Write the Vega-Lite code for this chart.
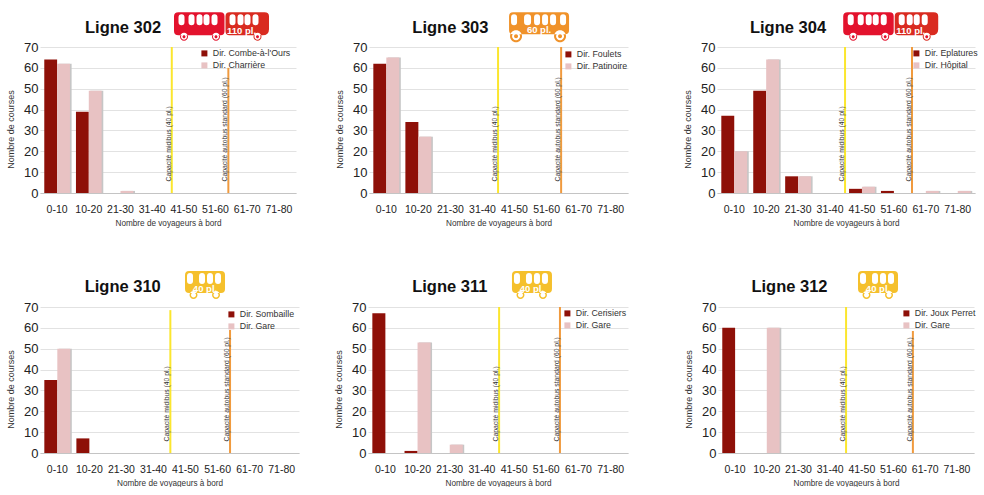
{"$schema":"https://vega.github.io/schema/vega-lite/v6.json","background":"white","padding":{"left":6,"top":12,"right":0,"bottom":0},
"config":{"view":{"stroke":null},"font":"Liberation Sans",
"axisX":{"grid":false,"domainColor":"#c4c4c4","domainWidth":1,"ticks":false,"labelFontSize":10.5,"labelColor":"#222","labelPadding":11,"labelAngle":0,"titleFontSize":8.2,"titleFontWeight":"normal","titleColor":"#333","titlePadding":5},
"axisY":{"grid":true,"gridColor":"#e2e2e2","domain":false,"ticks":false,"labelFontSize":13,"labelColor":"#222","labelPadding":2,"titleFontSize":9,"titleFontWeight":"normal","titleColor":"#333","titlePadding":8,"titleY":82,"tickCount":8},
"legend":{"title":null,"symbolType":"square","symbolSize":36,"labelFontSize":8.8,"labelColor":"#333","rowPadding":2,"labelOffset":4,"padding":0}},
"resolve":{"scale":{"color":"independent","xOffset":"independent"}},
"datasets":{"one":[{"k":1}],
"d302":[{"bin":"0-10","dir":"Dir. Combe-à-l'Ours","n":64},{"bin":"0-10","dir":"Dir. Charrière","n":62},{"bin":"10-20","dir":"Dir. Combe-à-l'Ours","n":39},{"bin":"10-20","dir":"Dir. Charrière","n":49},{"bin":"21-30","dir":"Dir. Charrière","n":1}],
"d303":[{"bin":"0-10","dir":"Dir. Foulets","n":62},{"bin":"0-10","dir":"Dir. Patinoire","n":65},{"bin":"10-20","dir":"Dir. Foulets","n":34},{"bin":"10-20","dir":"Dir. Patinoire","n":27}],
"d304":[{"bin":"0-10","dir":"Dir. Eplatures","n":37},{"bin":"0-10","dir":"Dir. Hôpital","n":20},{"bin":"10-20","dir":"Dir. Eplatures","n":49},{"bin":"10-20","dir":"Dir. Hôpital","n":64},{"bin":"21-30","dir":"Dir. Eplatures","n":8},{"bin":"21-30","dir":"Dir. Hôpital","n":8},{"bin":"41-50","dir":"Dir. Eplatures","n":2},{"bin":"41-50","dir":"Dir. Hôpital","n":3},{"bin":"51-60","dir":"Dir. Eplatures","n":1},{"bin":"61-70","dir":"Dir. Hôpital","n":1},{"bin":"71-80","dir":"Dir. Hôpital","n":1}],
"d310":[{"bin":"0-10","dir":"Dir. Sombaille","n":35},{"bin":"0-10","dir":"Dir. Gare","n":50},{"bin":"10-20","dir":"Dir. Sombaille","n":7}],
"d311":[{"bin":"0-10","dir":"Dir. Cerisiers","n":67},{"bin":"10-20","dir":"Dir. Cerisiers","n":1},{"bin":"10-20","dir":"Dir. Gare","n":53},{"bin":"21-30","dir":"Dir. Gare","n":4}],
"d312":[{"bin":"0-10","dir":"Dir. Joux Perret","n":60},{"bin":"10-20","dir":"Dir. Gare","n":60}]},
"vconcat":[
{"resolve":{"scale":{"color":"independent","xOffset":"independent"}},"hconcat":[
{"resolve":{"scale":{"color":"independent","xOffset":"independent"}},"hconcat":[
{"width":256,"height":146,"layer":[
{"data":{"name":"d302"},"transform":[{"filter":"datum.dir=='Dir. Charrière'"}],"mark":{"type":"bar","color":"#c6c6c6","width":13,"xOffset":8},"encoding":{"x":{"field":"bin","type":"nominal","axis":{"title":"Nombre de voyageurs à bord"}},"y":{"field":"n","type":"quantitative","axis":{"title":"Nombre de courses","values":[0,10,20,30,40,50,60,70]}}}},
{"data":{"name":"d302"},"mark":"bar","encoding":{"x":{"field":"bin","type":"nominal","scale":{"domain":["0-10","10-20","21-30","31-40","41-50","51-60","61-70","71-80"],"paddingInner":0.19,"paddingOuter":0.135},"axis":{"title":"Nombre de voyageurs à bord"}},"xOffset":{"field":"dir","scale":{"domain":["Dir. Combe-à-l'Ours","Dir. Charrière"]}},"y":{"field":"n","type":"quantitative","scale":{"domain":[0,70],"nice":false},"axis":{"title":"Nombre de courses","values":[0,10,20,30,40,50,60,70]}},"color":{"field":"dir","scale":{"domain":["Dir. Combe-à-l'Ours","Dir. Charrière"],"range":["#8e1008","#e8c2c3"]},"legend":{"orient":"none","legendX":160,"legendY":2}}}},
{"data":{"name":"one"},"mark":{"type":"rule","color":"#fbe62e","strokeWidth":2},"encoding":{"x":{"datum":"41-50","bandPosition":0.03},"y":{"datum":0},"y2":{"datum":70}}},
{"data":{"name":"one"},"mark":{"type":"rule","color":"#f09a3e","strokeWidth":2},"encoding":{"x":{"datum":"51-60","bandPosition":1},"y":{"datum":0},"y2":{"datum":60}}},
{"data":{"name":"one"},"mark":{"type":"text","text":"Capacité midibus (40 pl.)","angle":270,"align":"left","baseline":"bottom","fontSize":6.8,"color":"#333","dx":-1},"encoding":{"x":{"datum":"41-50","bandPosition":0.03},"y":{"datum":6}}},
{"data":{"name":"one"},"mark":{"type":"text","text":"Capacité autobus standard (60 pl.)","angle":270,"align":"left","baseline":"bottom","fontSize":6.8,"color":"#333","dx":-1},"encoding":{"x":{"datum":"51-60","bandPosition":1},"y":{"datum":6}}},
{"data":{"name":"one"},"mark":{"type":"text","text":"Ligne 302","fontSize":16.5,"fontWeight":"bold","color":"#111","baseline":"middle"},"encoding":{"x":{"datum":"21-30","bandPosition":0.6},"y":{"datum":79}}},
{"data":{"name":"one"},"mark":{"type":"point","filled":true,"opacity":1,"size":4,"color":"#e3122d","shape":"M-43-14H-1Q3-14 3-10V5Q3 9-1 9H-43Q-47.5 9-47.5 5V-10Q-47.5-14-43-14ZM-41.5 10.5a4 4 0 1 0 8 0a4 4 0 1 0-8 0ZM-9.5 10.5a4 4 0 1 0 8 0a4 4 0 1 0-8 0Z"},"encoding":{"x":{"datum":"51-60","bandPosition":0.733},"y":{"datum":80}}},
{"data":{"name":"one"},"mark":{"type":"point","filled":true,"opacity":1,"size":4,"color":"#d92b20","shape":"M8-14H43Q47.5-14 47.5-10V3Q47.5 9 41 9H8Q4 9 4 5V-10Q4-14 8-14ZM32 10.5a4 4 0 1 0 8 0a4 4 0 1 0-8 0Z"},"encoding":{"x":{"datum":"51-60","bandPosition":0.733},"y":{"datum":80}}},
{"data":{"name":"one"},"mark":{"type":"point","filled":true,"opacity":1,"size":4,"color":"white","shape":"M-43-9q0-3 3-3q3 0 3 3v5q0 3-3 3q-3 0-3-3ZM-33-9q0-3 3-3q3 0 3 3v5q0 3-3 3q-3 0-3-3ZM-25-9q0-3 3-3q3 0 3 3v5q0 3-3 3q-3 0-3-3ZM-18-9q0-3 3-3q3 0 3 3v5q0 3-3 3q-3 0-3-3ZM-10-9q0-3 3-3q3 0 3 3v5q0 3-3 3q-3 0-3-3ZM8-9q0-3 3-3q3 0 3 3v5q0 3-3 3q-3 0-3-3ZM16-9q0-3 3-3q3 0 3 3v5q0 3-3 3q-3 0-3-3ZM23-9q0-3 3-3q3 0 3 3v5q0 3-3 3q-3 0-3-3ZM31-9q0-3 3-3q3 0 3 3v5q0 3-3 3q-3 0-3-3ZM-40.5 10.5a3 3 0 1 0 6 0a3 3 0 1 0-6 0ZM-8.5 10.5a3 3 0 1 0 6 0a3 3 0 1 0-6 0ZM33 10.5a3 3 0 1 0 6 0a3 3 0 1 0-6 0Z"},"encoding":{"x":{"datum":"51-60","bandPosition":0.733},"y":{"datum":80}}},
{"data":{"name":"one"},"mark":{"type":"point","filled":true,"opacity":1,"size":4,"color":"#e3122d","shape":"M-39 10.5a1.500 1.500 0 1 0 3 0a1.500 1.500 0 1 0-3 0ZM-7 10.5a1.500 1.500 0 1 0 3 0a1.500 1.500 0 1 0-3 0ZM34.500 10.5a1.500 1.500 0 1 0 3 0a1.500 1.500 0 1 0-3 0Z"},"encoding":{"x":{"datum":"51-60","bandPosition":0.733},"y":{"datum":80}}},
{"data":{"name":"one"},"mark":{"type":"text","text":"110 pl.","fontSize":9.5,"fontWeight":"bold","color":"white","dx":20,"dy":5},"encoding":{"x":{"datum":"51-60","bandPosition":0.733},"y":{"datum":80}}}
]},
{"width":259,"height":146,"layer":[
{"data":{"name":"d303"},"transform":[{"filter":"datum.dir=='Dir. Patinoire'"}],"mark":{"type":"bar","color":"#c6c6c6","width":13,"xOffset":8},"encoding":{"x":{"field":"bin","type":"nominal","axis":{"title":"Nombre de voyageurs à bord"}},"y":{"field":"n","type":"quantitative","axis":{"title":"Nombre de courses","values":[0,10,20,30,40,50,60,70]}}}},
{"data":{"name":"d303"},"mark":"bar","encoding":{"x":{"field":"bin","type":"nominal","scale":{"domain":["0-10","10-20","21-30","31-40","41-50","51-60","61-70","71-80"],"paddingInner":0.19,"paddingOuter":0.135},"axis":{"title":"Nombre de voyageurs à bord"}},"xOffset":{"field":"dir","scale":{"domain":["Dir. Foulets","Dir. Patinoire"]}},"y":{"field":"n","type":"quantitative","scale":{"domain":[0,70],"nice":false},"axis":{"title":"Nombre de courses","values":[0,10,20,30,40,50,60,70]}},"color":{"field":"dir","scale":{"domain":["Dir. Foulets","Dir. Patinoire"],"range":["#8e1008","#e8c2c3"]},"legend":{"orient":"none","legendX":195,"legendY":3}}}},
{"data":{"name":"one"},"mark":{"type":"rule","color":"#fbe62e","strokeWidth":2},"encoding":{"x":{"datum":"31-40","bandPosition":1.1},"y":{"datum":0},"y2":{"datum":70}}},
{"data":{"name":"one"},"mark":{"type":"rule","color":"#f09a3e","strokeWidth":2},"encoding":{"x":{"datum":"51-60","bandPosition":1.06},"y":{"datum":0},"y2":{"datum":70}}},
{"data":{"name":"one"},"mark":{"type":"text","text":"Capacité midibus (40 pl.)","angle":270,"align":"left","baseline":"bottom","fontSize":6.8,"color":"#333","dx":-1},"encoding":{"x":{"datum":"31-40","bandPosition":1.1},"y":{"datum":6}}},
{"data":{"name":"one"},"mark":{"type":"text","text":"Capacité autobus standard (60 pl.)","angle":270,"align":"left","baseline":"bottom","fontSize":6.8,"color":"#333","dx":-1},"encoding":{"x":{"datum":"51-60","bandPosition":1.06},"y":{"datum":6}}},
{"data":{"name":"one"},"mark":{"type":"text","text":"Ligne 303","fontSize":16.5,"fontWeight":"bold","color":"#111","baseline":"middle"},"encoding":{"x":{"datum":"21-30"},"y":{"datum":79}}},
{"data":{"name":"one"},"mark":{"type":"point","filled":true,"opacity":1,"size":4,"color":"#f0922a","shape":"M-26-14H26Q30-14 30-10V4Q30 8 26 8H-26Q-30 8-30 4V-10Q-30-14-26-14ZM-29 10a6 6 0 1 0 12 0a6 6 0 1 0-12 0ZM15 10a6 6 0 1 0 12 0a6 6 0 1 0-12 0Z"},"encoding":{"x":{"datum":"51-60","bandPosition":0.21},"y":{"datum":80}}},
{"data":{"name":"one"},"mark":{"type":"point","filled":true,"opacity":1,"size":4,"color":"white","shape":"M-28-9q0-3 3-3q3 0 3 3v5q0 3-3 3q-3 0-3-3ZM-15-9q0-3 3.500-3q3.500 0 3.500 3v5q0 3-3.500 3q-3.500 0-3.500-3ZM-5-9q0-3 3-3q3 0 3 3v5q0 3-3 3q-3 0-3-3ZM3-9q0-3 3-3q3 0 3 3v5q0 3-3 3q-3 0-3-3ZM11-9q0-3 3-3q3 0 3 3v5q0 3-3 3q-3 0-3-3ZM21-9q0-3 3-3q3 0 3 3v5q0 3-3 3q-3 0-3-3ZM-27 10a4 4 0 1 0 8 0a4 4 0 1 0-8 0ZM17 10a4 4 0 1 0 8 0a4 4 0 1 0-8 0Z"},"encoding":{"x":{"datum":"51-60","bandPosition":0.21},"y":{"datum":80}}},
{"data":{"name":"one"},"mark":{"type":"point","filled":true,"opacity":1,"size":4,"color":"#f0922a","shape":"M-25 10a2 2 0 1 0 4 0a2 2 0 1 0-4 0ZM19 10a2 2 0 1 0 4 0a2 2 0 1 0-4 0Z"},"encoding":{"x":{"datum":"51-60","bandPosition":0.21},"y":{"datum":80}}},
{"data":{"name":"one"},"mark":{"type":"text","text":"60 pl.","fontSize":9.5,"fontWeight":"bold","color":"white","dx":0,"dy":4},"encoding":{"x":{"datum":"51-60","bandPosition":0.21},"y":{"datum":80}}}
]}
],"spacing":39},
{"width":258,"height":146,"layer":[
{"data":{"name":"d304"},"transform":[{"filter":"datum.dir=='Dir. Hôpital'"}],"mark":{"type":"bar","color":"#c6c6c6","width":13,"xOffset":8},"encoding":{"x":{"field":"bin","type":"nominal","axis":{"title":"Nombre de voyageurs à bord"}},"y":{"field":"n","type":"quantitative","axis":{"title":"Nombre de courses","values":[0,10,20,30,40,50,60,70]}}}},
{"data":{"name":"d304"},"mark":"bar","encoding":{"x":{"field":"bin","type":"nominal","scale":{"domain":["0-10","10-20","21-30","31-40","41-50","51-60","61-70","71-80"],"paddingInner":0.19,"paddingOuter":0.135},"axis":{"title":"Nombre de voyageurs à bord"}},"xOffset":{"field":"dir","scale":{"domain":["Dir. Eplatures","Dir. Hôpital"]}},"y":{"field":"n","type":"quantitative","scale":{"domain":[0,70],"nice":false},"axis":{"title":"Nombre de courses","values":[0,10,20,30,40,50,60,70]}},"color":{"field":"dir","scale":{"domain":["Dir. Eplatures","Dir. Hôpital"],"range":["#8e1008","#e8c2c3"]},"legend":{"orient":"none","legendX":195,"legendY":2}}}},
{"data":{"name":"one"},"mark":{"type":"rule","color":"#fbe62e","strokeWidth":2},"encoding":{"x":{"datum":"31-40","bandPosition":1.08},"y":{"datum":0},"y2":{"datum":70}}},
{"data":{"name":"one"},"mark":{"type":"rule","color":"#f09a3e","strokeWidth":2},"encoding":{"x":{"datum":"51-60","bandPosition":1.2},"y":{"datum":0},"y2":{"datum":70}}},
{"data":{"name":"one"},"mark":{"type":"text","text":"Capacité midibus (40 pl.)","angle":270,"align":"left","baseline":"bottom","fontSize":6.8,"color":"#333","dx":-1},"encoding":{"x":{"datum":"31-40","bandPosition":1.08},"y":{"datum":6}}},
{"data":{"name":"one"},"mark":{"type":"text","text":"Capacité autobus standard (60 pl.)","angle":270,"align":"left","baseline":"bottom","fontSize":6.8,"color":"#333","dx":-1},"encoding":{"x":{"datum":"51-60","bandPosition":1.2},"y":{"datum":6}}},
{"data":{"name":"one"},"mark":{"type":"text","text":"Ligne 304","fontSize":16.5,"fontWeight":"bold","color":"#111","baseline":"middle"},"encoding":{"x":{"datum":"21-30","bandPosition":0.11},"y":{"datum":79}}},
{"data":{"name":"one"},"mark":{"type":"point","filled":true,"opacity":1,"size":4,"color":"#e3122d","shape":"M-43-14H-1Q3-14 3-10V5Q3 9-1 9H-43Q-47.5 9-47.5 5V-10Q-47.5-14-43-14ZM-41.5 10.5a4 4 0 1 0 8 0a4 4 0 1 0-8 0ZM-9.5 10.5a4 4 0 1 0 8 0a4 4 0 1 0-8 0Z"},"encoding":{"x":{"datum":"51-60","bandPosition":0.377},"y":{"datum":80}}},
{"data":{"name":"one"},"mark":{"type":"point","filled":true,"opacity":1,"size":4,"color":"#d92b20","shape":"M8-14H43Q47.5-14 47.5-10V3Q47.5 9 41 9H8Q4 9 4 5V-10Q4-14 8-14ZM32 10.5a4 4 0 1 0 8 0a4 4 0 1 0-8 0Z"},"encoding":{"x":{"datum":"51-60","bandPosition":0.377},"y":{"datum":80}}},
{"data":{"name":"one"},"mark":{"type":"point","filled":true,"opacity":1,"size":4,"color":"white","shape":"M-43-9q0-3 3-3q3 0 3 3v5q0 3-3 3q-3 0-3-3ZM-33-9q0-3 3-3q3 0 3 3v5q0 3-3 3q-3 0-3-3ZM-25-9q0-3 3-3q3 0 3 3v5q0 3-3 3q-3 0-3-3ZM-18-9q0-3 3-3q3 0 3 3v5q0 3-3 3q-3 0-3-3ZM-10-9q0-3 3-3q3 0 3 3v5q0 3-3 3q-3 0-3-3ZM8-9q0-3 3-3q3 0 3 3v5q0 3-3 3q-3 0-3-3ZM16-9q0-3 3-3q3 0 3 3v5q0 3-3 3q-3 0-3-3ZM23-9q0-3 3-3q3 0 3 3v5q0 3-3 3q-3 0-3-3ZM31-9q0-3 3-3q3 0 3 3v5q0 3-3 3q-3 0-3-3ZM-40.5 10.5a3 3 0 1 0 6 0a3 3 0 1 0-6 0ZM-8.5 10.5a3 3 0 1 0 6 0a3 3 0 1 0-6 0ZM33 10.5a3 3 0 1 0 6 0a3 3 0 1 0-6 0Z"},"encoding":{"x":{"datum":"51-60","bandPosition":0.377},"y":{"datum":80}}},
{"data":{"name":"one"},"mark":{"type":"point","filled":true,"opacity":1,"size":4,"color":"#e3122d","shape":"M-39 10.5a1.500 1.500 0 1 0 3 0a1.500 1.500 0 1 0-3 0ZM-7 10.5a1.500 1.500 0 1 0 3 0a1.500 1.500 0 1 0-3 0ZM34.500 10.5a1.500 1.500 0 1 0 3 0a1.500 1.500 0 1 0-3 0Z"},"encoding":{"x":{"datum":"51-60","bandPosition":0.377},"y":{"datum":80}}},
{"data":{"name":"one"},"mark":{"type":"text","text":"110 pl.","fontSize":9.5,"fontWeight":"bold","color":"white","dx":20,"dy":5},"encoding":{"x":{"datum":"51-60","bandPosition":0.377},"y":{"datum":80}}}
]}
],"spacing":55},
{"resolve":{"scale":{"color":"independent","xOffset":"independent"}},"hconcat":[
{"resolve":{"scale":{"color":"independent","xOffset":"independent"}},"hconcat":[
{"width":259,"height":146,"layer":[
{"data":{"name":"d310"},"transform":[{"filter":"datum.dir=='Dir. Gare'"}],"mark":{"type":"bar","color":"#c6c6c6","width":13,"xOffset":8},"encoding":{"x":{"field":"bin","type":"nominal","axis":{"title":"Nombre de voyageurs à bord"}},"y":{"field":"n","type":"quantitative","axis":{"title":"Nombre de courses","values":[0,10,20,30,40,50,60,70]}}}},
{"data":{"name":"d310"},"mark":"bar","encoding":{"x":{"field":"bin","type":"nominal","scale":{"domain":["0-10","10-20","21-30","31-40","41-50","51-60","61-70","71-80"],"paddingInner":0.19,"paddingOuter":0.135},"axis":{"title":"Nombre de voyageurs à bord"}},"xOffset":{"field":"dir","scale":{"domain":["Dir. Sombaille","Dir. Gare"]}},"y":{"field":"n","type":"quantitative","scale":{"domain":[0,70],"nice":false},"axis":{"title":"Nombre de courses","values":[0,10,20,30,40,50,60,70]}},"color":{"field":"dir","scale":{"domain":["Dir. Sombaille","Dir. Gare"],"range":["#8e1008","#e8c2c3"]},"legend":{"orient":"none","legendX":187,"legendY":3}}}},
{"data":{"name":"one"},"mark":{"type":"rule","color":"#fbe62e","strokeWidth":2},"encoding":{"x":{"datum":"31-40","bandPosition":1.15},"y":{"datum":0},"y2":{"datum":68.5}}},
{"data":{"name":"one"},"mark":{"type":"rule","color":"#f09a3e","strokeWidth":2},"encoding":{"x":{"datum":"51-60","bandPosition":0.98},"y":{"datum":0},"y2":{"datum":59}}},
{"data":{"name":"one"},"mark":{"type":"text","text":"Capacité midibus (40 pl.)","angle":270,"align":"left","baseline":"bottom","fontSize":6.8,"color":"#333","dx":-1},"encoding":{"x":{"datum":"31-40","bandPosition":1.15},"y":{"datum":6}}},
{"data":{"name":"one"},"mark":{"type":"text","text":"Capacité autobus standard (60 pl.)","angle":270,"align":"left","baseline":"bottom","fontSize":6.8,"color":"#333","dx":-1},"encoding":{"x":{"datum":"51-60","bandPosition":0.98},"y":{"datum":6}}},
{"data":{"name":"one"},"mark":{"type":"text","text":"Ligne 310","fontSize":16.5,"fontWeight":"bold","color":"#111","baseline":"middle"},"encoding":{"x":{"datum":"21-30","bandPosition":0.55},"y":{"datum":79.5}}},
{"data":{"name":"one"},"mark":{"type":"point","filled":true,"opacity":1,"size":4,"color":"#f5c02c","shape":"M-16-13H16Q20-13 20-9V5Q20 9 16 9H-16Q-20 9-20 5V-9Q-20-13-16-13ZM-15.500 11a4 4 0 1 0 8 0a4 4 0 1 0-8 0ZM7 11a4 4 0 1 0 8 0a4 4 0 1 0-8 0Z"},"encoding":{"x":{"datum":"51-60","bandPosition":0.016},"y":{"datum":81}}},
{"data":{"name":"one"},"mark":{"type":"point","filled":true,"opacity":1,"size":4,"color":"white","shape":"M-18-8q0-3 3-3q3 0 3 3v5q0 3-3 3q-3 0-3-3ZM-6-8q0-3 3-3q3 0 3 3v5q0 3-3 3q-3 0-3-3ZM2-8q0-3 3-3q3 0 3 3v5q0 3-3 3q-3 0-3-3ZM10-8q0-3 3-3q3 0 3 3v5q0 3-3 3q-3 0-3-3ZM-14 11a2.500 2.500 0 1 0 5 0a2.500 2.500 0 1 0-5 0ZM8.500 11a2.500 2.500 0 1 0 5 0a2.500 2.500 0 1 0-5 0Z"},"encoding":{"x":{"datum":"51-60","bandPosition":0.016},"y":{"datum":81}}},
{"data":{"name":"one"},"mark":{"type":"text","text":"40 pl.","fontSize":9.5,"fontWeight":"bold","color":"white","dx":0,"dy":5},"encoding":{"x":{"datum":"51-60","bandPosition":0.016},"y":{"datum":81}}}
]},
{"width":260,"height":146,"layer":[
{"data":{"name":"d311"},"transform":[{"filter":"datum.dir=='Dir. Gare'"}],"mark":{"type":"bar","color":"#c6c6c6","width":13,"xOffset":8},"encoding":{"x":{"field":"bin","type":"nominal","axis":{"title":"Nombre de voyageurs à bord"}},"y":{"field":"n","type":"quantitative","axis":{"title":"Nombre de courses","values":[0,10,20,30,40,50,60,70]}}}},
{"data":{"name":"d311"},"mark":"bar","encoding":{"x":{"field":"bin","type":"nominal","scale":{"domain":["0-10","10-20","21-30","31-40","41-50","51-60","61-70","71-80"],"paddingInner":0.19,"paddingOuter":0.135},"axis":{"title":"Nombre de voyageurs à bord"}},"xOffset":{"field":"dir","scale":{"domain":["Dir. Cerisiers","Dir. Gare"]}},"y":{"field":"n","type":"quantitative","scale":{"domain":[0,70],"nice":false},"axis":{"title":"Nombre de courses","values":[0,10,20,30,40,50,60,70]}},"color":{"field":"dir","scale":{"domain":["Dir. Cerisiers","Dir. Gare"],"range":["#8e1008","#e8c2c3"]},"legend":{"orient":"none","legendX":195,"legendY":2}}}},
{"data":{"name":"one"},"mark":{"type":"rule","color":"#fbe62e","strokeWidth":2},"encoding":{"x":{"datum":"31-40","bandPosition":1.16},"y":{"datum":0},"y2":{"datum":70}}},
{"data":{"name":"one"},"mark":{"type":"rule","color":"#f09a3e","strokeWidth":2},"encoding":{"x":{"datum":"51-60","bandPosition":1.025},"y":{"datum":0},"y2":{"datum":70}}},
{"data":{"name":"one"},"mark":{"type":"text","text":"Capacité midibus (40 pl.)","angle":270,"align":"left","baseline":"bottom","fontSize":6.8,"color":"#333","dx":-1},"encoding":{"x":{"datum":"31-40","bandPosition":1.16},"y":{"datum":6}}},
{"data":{"name":"one"},"mark":{"type":"text","text":"Capacité autobus standard (60 pl.)","angle":270,"align":"left","baseline":"bottom","fontSize":6.8,"color":"#333","dx":-1},"encoding":{"x":{"datum":"51-60","bandPosition":1.025},"y":{"datum":6}}},
{"data":{"name":"one"},"mark":{"type":"text","text":"Ligne 311","fontSize":16.5,"fontWeight":"bold","color":"#111","baseline":"middle"},"encoding":{"x":{"datum":"21-30"},"y":{"datum":79.5}}},
{"data":{"name":"one"},"mark":{"type":"point","filled":true,"opacity":1,"size":4,"color":"#f5c02c","shape":"M-16-13H16Q20-13 20-9V5Q20 9 16 9H-16Q-20 9-20 5V-9Q-20-13-16-13ZM-15.500 11a4 4 0 1 0 8 0a4 4 0 1 0-8 0ZM7 11a4 4 0 1 0 8 0a4 4 0 1 0-8 0Z"},"encoding":{"x":{"datum":"41-50","bandPosition":1.186},"y":{"datum":81}}},
{"data":{"name":"one"},"mark":{"type":"point","filled":true,"opacity":1,"size":4,"color":"white","shape":"M-18-8q0-3 3-3q3 0 3 3v5q0 3-3 3q-3 0-3-3ZM-6-8q0-3 3-3q3 0 3 3v5q0 3-3 3q-3 0-3-3ZM2-8q0-3 3-3q3 0 3 3v5q0 3-3 3q-3 0-3-3ZM10-8q0-3 3-3q3 0 3 3v5q0 3-3 3q-3 0-3-3ZM-14 11a2.500 2.500 0 1 0 5 0a2.500 2.500 0 1 0-5 0ZM8.500 11a2.500 2.500 0 1 0 5 0a2.500 2.500 0 1 0-5 0Z"},"encoding":{"x":{"datum":"41-50","bandPosition":1.186},"y":{"datum":81}}},
{"data":{"name":"one"},"mark":{"type":"text","text":"40 pl.","fontSize":9.5,"fontWeight":"bold","color":"white","dx":0,"dy":5},"encoding":{"x":{"datum":"41-50","bandPosition":1.186},"y":{"datum":81}}}
]}
],"spacing":35},
{"width":256,"height":146,"layer":[
{"data":{"name":"d312"},"transform":[{"filter":"datum.dir=='Dir. Gare'"}],"mark":{"type":"bar","color":"#c6c6c6","width":13,"xOffset":8},"encoding":{"x":{"field":"bin","type":"nominal","axis":{"title":"Nombre de voyageurs à bord"}},"y":{"field":"n","type":"quantitative","axis":{"title":"Nombre de courses","values":[0,10,20,30,40,50,60,70]}}}},
{"data":{"name":"d312"},"mark":"bar","encoding":{"x":{"field":"bin","type":"nominal","scale":{"domain":["0-10","10-20","21-30","31-40","41-50","51-60","61-70","71-80"],"paddingInner":0.19,"paddingOuter":0.135},"axis":{"title":"Nombre de voyageurs à bord"}},"xOffset":{"field":"dir","scale":{"domain":["Dir. Joux Perret","Dir. Gare"]}},"y":{"field":"n","type":"quantitative","scale":{"domain":[0,70],"nice":false},"axis":{"title":"Nombre de courses","values":[0,10,20,30,40,50,60,70]}},"color":{"field":"dir","scale":{"domain":["Dir. Joux Perret","Dir. Gare"],"range":["#8e1008","#e8c2c3"]},"legend":{"orient":"none","legendX":184,"legendY":2}}}},
{"data":{"name":"one"},"mark":{"type":"rule","color":"#fbe62e","strokeWidth":2},"encoding":{"x":{"datum":"31-40","bandPosition":1.12},"y":{"datum":0},"y2":{"datum":70}}},
{"data":{"name":"one"},"mark":{"type":"rule","color":"#f09a3e","strokeWidth":2},"encoding":{"x":{"datum":"61-70","bandPosition":0.02},"y":{"datum":0},"y2":{"datum":58.5}}},
{"data":{"name":"one"},"mark":{"type":"text","text":"Capacité midibus (40 pl.)","angle":270,"align":"left","baseline":"bottom","fontSize":6.8,"color":"#333","dx":-1},"encoding":{"x":{"datum":"31-40","bandPosition":1.12},"y":{"datum":6}}},
{"data":{"name":"one"},"mark":{"type":"text","text":"Capacité autobus standard (60 pl.)","angle":270,"align":"left","baseline":"bottom","fontSize":6.8,"color":"#333","dx":-1},"encoding":{"x":{"datum":"61-70","bandPosition":0.02},"y":{"datum":6}}},
{"data":{"name":"one"},"mark":{"type":"text","text":"Ligne 312","fontSize":16.5,"fontWeight":"bold","color":"#111","baseline":"middle"},"encoding":{"x":{"datum":"21-30","bandPosition":0.15},"y":{"datum":79.5}}},
{"data":{"name":"one"},"mark":{"type":"point","filled":true,"opacity":1,"size":4,"color":"#f5c02c","shape":"M-16-13H16Q20-13 20-9V5Q20 9 16 9H-16Q-20 9-20 5V-9Q-20-13-16-13ZM-15.500 11a4 4 0 1 0 8 0a4 4 0 1 0-8 0ZM7 11a4 4 0 1 0 8 0a4 4 0 1 0-8 0Z"},"encoding":{"x":{"datum":"41-50","bandPosition":1.13},"y":{"datum":81}}},
{"data":{"name":"one"},"mark":{"type":"point","filled":true,"opacity":1,"size":4,"color":"white","shape":"M-18-8q0-3 3-3q3 0 3 3v5q0 3-3 3q-3 0-3-3ZM-6-8q0-3 3-3q3 0 3 3v5q0 3-3 3q-3 0-3-3ZM2-8q0-3 3-3q3 0 3 3v5q0 3-3 3q-3 0-3-3ZM10-8q0-3 3-3q3 0 3 3v5q0 3-3 3q-3 0-3-3ZM-14 11a2.500 2.500 0 1 0 5 0a2.500 2.500 0 1 0-5 0ZM8.500 11a2.500 2.500 0 1 0 5 0a2.500 2.500 0 1 0-5 0Z"},"encoding":{"x":{"datum":"41-50","bandPosition":1.13},"y":{"datum":81}}},
{"data":{"name":"one"},"mark":{"type":"text","text":"40 pl.","fontSize":9.5,"fontWeight":"bold","color":"white","dx":0,"dy":5},"encoding":{"x":{"datum":"41-50","bandPosition":1.13},"y":{"datum":81}}}
]}
],"spacing":56}
],"spacing":44}
